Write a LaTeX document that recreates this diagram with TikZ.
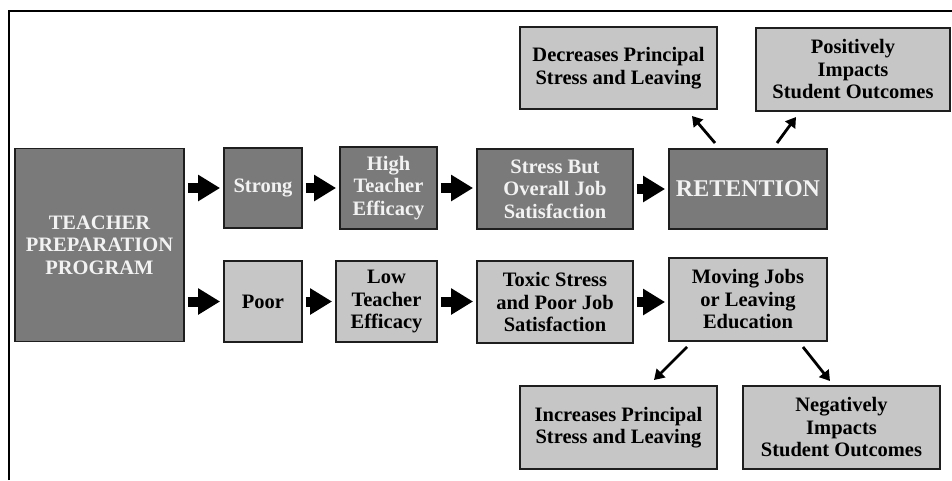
\documentclass[tikz,border=0pt]{standalone}
\usepackage{fontspec}
\setmainfont{Liberation Serif}
\usetikzlibrary{arrows.meta}
\definecolor{darkbox}{HTML}{7A7A7A}
\definecolor{lightbox}{HTML}{C6C6C6}
\definecolor{lighttext}{HTML}{F2F2F2}
\definecolor{edge}{HTML}{1E1E1E}
\begin{document}
\begin{tikzpicture}[x=1pt,y=-1pt,
  box/.style={draw=edge,line width=1.8pt,align=center,inner sep=0pt,
    font=\fontsize{20.5}{22.5}\selectfont\bfseries},
  darkb/.style={box,fill=darkbox,text=lighttext},
  lightb/.style={box,fill=lightbox,text=black},
  blk/.style={line width=10pt,-{Triangle[length=22pt,width=25pt]},shorten <=3pt,shorten >=3pt},
  thin/.style={line width=2.8pt,-{Triangle[length=10pt,width=12pt]}}]
\useasboundingbox (0,0) rectangle (952,480);
% frame
\draw[line width=2pt] (9,480) -- (9,11) -- (952,11);
% nodes
\node[darkb,minimum width=169,minimum height=193] (tpp) at (99.5,245) {TEACHER\\PREPARATION\\PROGRAM};
\node[darkb,minimum width=78,minimum height=80] (strong) at (263,188) {Strong};
\node[darkb,minimum width=97,minimum height=82] (high) at (388.5,188) {High\\Teacher\\Efficacy};
\node[darkb,minimum width=156,minimum height=80] (stress) at (555,189) {Stress But\\Overall Job\\Satisfaction};
\node[darkb,minimum width=158,minimum height=80,font=\fontsize{24}{26}\selectfont\bfseries] (ret) at (748,189) {RETENTION};
\node[lightb,minimum width=78,minimum height=81] (poor) at (263,301.5) {Poor};
\node[lightb,minimum width=101,minimum height=81] (low) at (386.5,301.5) {Low\\Teacher\\Efficacy};
\node[lightb,minimum width=156,minimum height=82] (toxic) at (555,302) {Toxic Stress\\and Poor Job\\Satisfaction};
\node[lightb,minimum width=158,minimum height=83] (moving) at (748,299.5) {Moving Jobs\\or Leaving\\Education};
\node[lightb,minimum width=197,minimum height=82] (decr) at (618.5,68) {Decreases Principal\\Stress and Leaving};
\node[lightb,minimum width=194,minimum height=83] (pos) at (853,69.5) {Positively\\Impacts\\Student Outcomes};
\node[lightb,minimum width=197,minimum height=83] (incr) at (618.5,427.5) {Increases Principal\\Stress and Leaving};
\node[lightb,minimum width=197,minimum height=83] (neg) at (841.5,427.5) {Negatively\\Impacts\\Student Outcomes};
% block arrows
\draw[blk] (tpp.east|-strong.west) -- (strong.west);
\draw[blk] (strong.east) -- (high.west|-strong.east);
\draw[blk] (high.east) -- (stress.west|-high.east);
\draw[blk] (stress.east) -- (ret.west|-stress.east);
\draw[blk] (tpp.east|-poor.west) -- (poor.west);
\draw[blk] (poor.east) -- (low.west|-poor.east);
\draw[blk] (low.east) -- (toxic.west|-low.east);
\draw[blk] (toxic.east) -- (moving.west|-toxic.east);
% thin arrows
\coordinate (r1) at (715,143);
\coordinate (d1) at (692,116);
\coordinate (r2) at (777,143);
\coordinate (p1) at (796,117);
\coordinate (m1) at (687,347);
\coordinate (i1) at (654,380);
\coordinate (m2) at (803,347);
\coordinate (n1) at (830,381);
\draw[thin] (r1) -- (d1);
\draw[thin] (r2) -- (p1);
\draw[thin] (m1) -- (i1);
\draw[thin] (m2) -- (n1);
\end{tikzpicture}
\end{document}
